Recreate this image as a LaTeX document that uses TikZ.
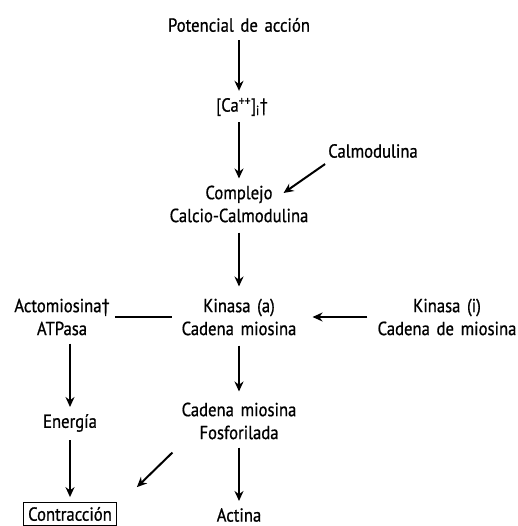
\documentclass[tikz,border=0pt]{standalone}
\usepackage{fontspec}
\setmainfont{PT Sans}[FakeStretch=0.88,WordSpace=1.5,FakeBold=0.8]
\usetikzlibrary{positioning,arrows.meta,calc}

\begin{document}
\begin{tikzpicture}[x=1bp,y=-1bp,
  texto/.style={align=center,inner sep=2bp,font=\fontsize{19}{23}\selectfont},
  caja/.style={texto,draw,line width=0.8bp,minimum width=93bp,minimum height=23bp},
  flecha/.style={-{Stealth[length=10bp,width=9bp]},line width=2bp,shorten <=6bp,shorten >=5bp},
  linea/.style={line width=2bp}]
\useasboundingbox (0,0) rectangle (518,526);

% columna central
\node[texto] (potencial) at (239,25) {Potencial de acción};
\node[texto] (calcio) at (242,107) {[Ca\textsuperscript{++}]\textsubscript{i}†};
\node[texto] (calmod) at (373,151) {Calmodulina};
\node[texto] (complejo) at (239,204) {Complejo\\Calcio-Calmodulina};
\node[texto] (kinasaA) at (239,317) {Kinasa (a)\\Cadena miosina};
\node[texto] (kinasaI) at (447,317) {Kinasa (i)\\Cadena de miosina};
\node[texto] (fosfo) at (239,421) {Cadena miosina\\Fosforilada};
\node[texto] (actina) at (239,515) {Actina};

% columna izquierda
\node[texto] (acto) at (62,317) {Actomiosina†\\ATPasa};
\node[texto] (energia) at (70,423) {Energía};
\node[caja] (contraccion) at (70,514) {Contracción};

\draw[flecha] (potencial.south -| complejo) -- (calcio.north -| complejo);
\draw[flecha,shorten <=4bp] (calcio.south -| complejo) -- (complejo);
\draw[flecha,shorten <=0bp,shorten >=0bp] ($(calmod.south west)+(-1,4)$) -- ($(complejo.east)+(-27,-11)$);
\draw[flecha,shorten <=8bp,shorten >=10bp] (complejo) -- (kinasaA);
\draw[flecha,shorten <=8bp,shorten >=14bp] (kinasaI) -- (kinasaA);
\draw[linea,shorten <=3bp,shorten >=7bp] (acto) -- (kinasaA);
\draw[flecha,shorten <=8bp,shorten >=9bp] (kinasaA) -- (fosfo);
\draw[flecha] (fosfo) -- (actina);
\draw[flecha] (energia |- acto.south) -- (energia);
\draw[flecha] (energia) -- (contraccion);
\draw[flecha,shorten <=0bp,shorten >=0bp] ($(fosfo.south west)+(-7,11)$) -- ($(contraccion.north east)+(20,-15)$);
\end{tikzpicture}
\end{document}
